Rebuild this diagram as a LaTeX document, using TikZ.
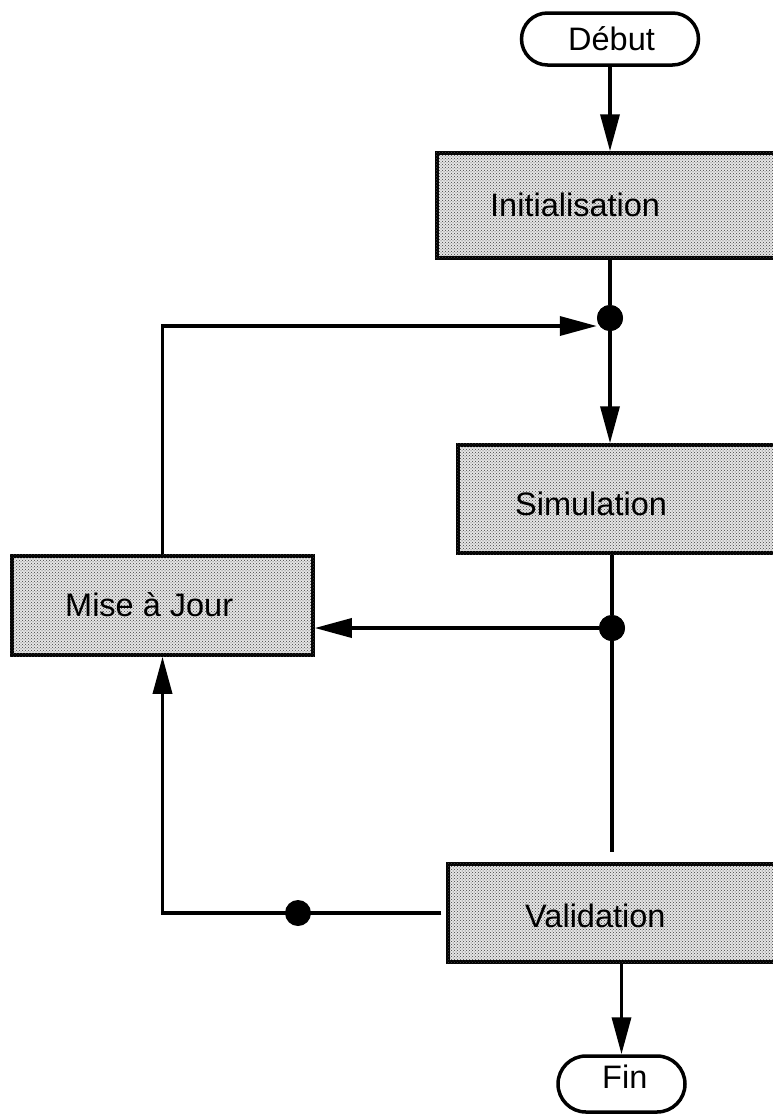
\documentclass[tikz,border=0pt]{standalone}
\usepackage{fontspec}
\setmainfont{Liberation Sans}
\usetikzlibrary{arrows.meta,patterns}
\definecolor{boxgray}{gray}{0.90}
\tikzset{
  flow/.style={line width=3.5pt},
  arr/.style={line width=3.5pt, -{Triangle[length=37pt,width=19pt]}},
  procbox/.style={draw, line width=3.5pt, fill=boxgray, rectangle, inner sep=0pt},
  shade/.style={pattern=crosshatch dots, pattern color=black!75},
  termbox/.style={draw, line width=3.5pt, fill=white, rectangle, inner sep=0pt},
  junction/.style={circle, fill=black, inner sep=0pt, minimum size=26pt},
  lbl/.style={anchor=base west, inner sep=0pt, font=\fontsize{32.5}{38}\selectfont}
}
\begin{document}
\begin{tikzpicture}[x=1pt,y=-1pt]
  \useasboundingbox (0,0) rectangle (773,1114);
  \fill[white] (0,0) rectangle (773,1114);
  \clip (0,0) rectangle (773,1114);

  % terminals
  \node[termbox, rounded corners=26pt, minimum width=177pt, minimum height=52pt] (debut) at (610,39) {};
  \node[termbox, rounded corners=28pt, minimum width=127pt, minimum height=56pt] (fin) at (621.5,1084) {};

  % process boxes (running off the right edge), with a halftone fill
  \node[procbox, minimum width=360pt, minimum height=105pt] (init) at (617,205.5) {};
  \node[procbox, minimum width=340pt, minimum height=108pt] (sim) at (628,499) {};
  \node[procbox, minimum width=301pt, minimum height=99pt] (maj) at (162.5,605.5) {};
  \node[procbox, minimum width=350pt, minimum height=98pt] (val) at (623,913) {};
  \foreach \b in {init,sim,maj,val}
    \path[shade] (\b.south west) rectangle (\b.north east);

  % junction points
  \node[junction] (j1) at (610,318) {};
  \node[junction] (j2) at (612,628) {};
  \node[junction] (j3) at (298,913) {};

  % labels
  \node[lbl] at (568,50) {Début};
  \node[lbl] at (490,216) {Initialisation};
  \node[lbl] at (515,515) {Simulation};
  \node[lbl] at (65,616) {Mise à Jour};
  \node[lbl] at (525,927) {Validation};
  \node[lbl] at (602,1088) {Fin};

  % main flow
  \draw[arr] (debut.south) -- (debut.south |- init.north);
  \draw[flow] (j1 |- init.south) -- (j1);
  \draw[arr] (j1) -- (j1 |- sim.north);
  \draw[flow] (j2 |- sim.south) -- (j2);
  \draw[arr] (j2) -- (j2 -| maj.east);
  \draw[flow, shorten >=10pt] (j2) -- (j2 |- val.north);
  \draw[arr] (fin.north |- val.south) -- (fin.north);

  % feedback loops
  \draw[arr] (maj.north) |- ([yshift=-8pt]j1.west);
  \draw[arr, shorten <=5pt] (val.west) -| (maj.south);

  % redraw junction dots above the lines
  \fill (j1) circle (13pt);
  \fill (j2) circle (13pt);
  \fill (j3) circle (12pt);
\end{tikzpicture}
\end{document}
